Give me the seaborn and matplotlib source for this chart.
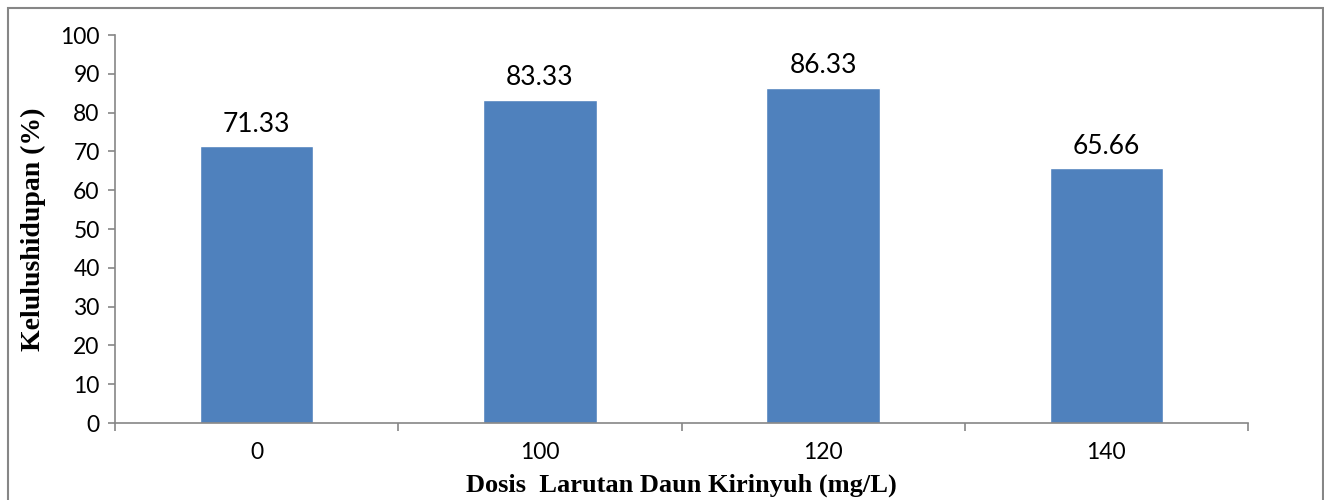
import matplotlib
matplotlib.use("Agg")
import matplotlib.pyplot as plt
import matplotlib.patches as mpatches
from matplotlib.ticker import FixedLocator, MultipleLocator
import seaborn as sns
import pandas as pd

doses = ["0", "100", "120", "140"]
survival = [71.33, 83.33, 86.33, 65.66]
value_labels = ["71.33", "83.33", "86.33", "65.66"]

sns.set_theme(style="white")
plt.rcParams['font.family'] = ['Lato', 'DejaVu Sans']

df = pd.DataFrame({"dose": doses, "survival": survival})

fig = plt.figure(figsize=(13.24, 5.0), dpi=100)
ax = fig.add_axes([115/1324, 1-423/500, (1248-115)/1324, (423-35)/500])

sns.barplot(data=df, x="dose", y="survival", order=doses, color="#4F81BD",
            saturation=1, width=0.4, ax=ax)

for i, (v, lab) in enumerate(zip(survival, value_labels)):
    ax.annotate(lab, (i, v), xytext=(0, 7), textcoords="offset points",
                ha="center", va="bottom", fontsize=19, color="black")

ax.set_xlim(-0.5, 3.5)
ax.set_ylim(0, 100)
ax.yaxis.set_major_locator(MultipleLocator(10))
ax.xaxis.set_minor_locator(FixedLocator([-0.5, 0.5, 1.5, 2.5, 3.5]))

grey = "#868686"
for s in ["top", "right"]:
    ax.spines[s].set_visible(False)
for s in ["left", "bottom"]:
    ax.spines[s].set_color(grey)
    ax.spines[s].set_linewidth(1.2)

ax.tick_params(axis="y", which="major", left=True, length=5, width=1.2, color=grey,
               direction="out", labelsize=16.5, labelcolor="black", pad=6)
ax.tick_params(axis="x", which="major", bottom=False, length=0, labelsize=16.5,
               labelcolor="black", pad=14)
ax.tick_params(axis="x", which="minor", bottom=True, length=6, width=1.2, color=grey,
               direction="out")

ax.set_xlabel("Dosis  Larutan Daun Kirinyuh (mg/L)", fontsize=19, fontweight="bold",
              family=["Liberation Serif", "DejaVu Serif"], color="black", labelpad=7)
ax.set_ylabel("Kelulushidupan (%)", fontsize=20, fontweight="bold",
              family=["Liberation Serif", "DejaVu Serif"], color="black", labelpad=10)
ax.grid(False)

border = mpatches.Rectangle((8/1324, -0.02), (1323-8)/1324, 1-8/500+0.02,
                            transform=fig.transFigure, fill=False,
                            edgecolor=grey, linewidth=1.5, clip_on=False)
fig.patches.append(border)

fig.savefig("out.png", dpi=100)
